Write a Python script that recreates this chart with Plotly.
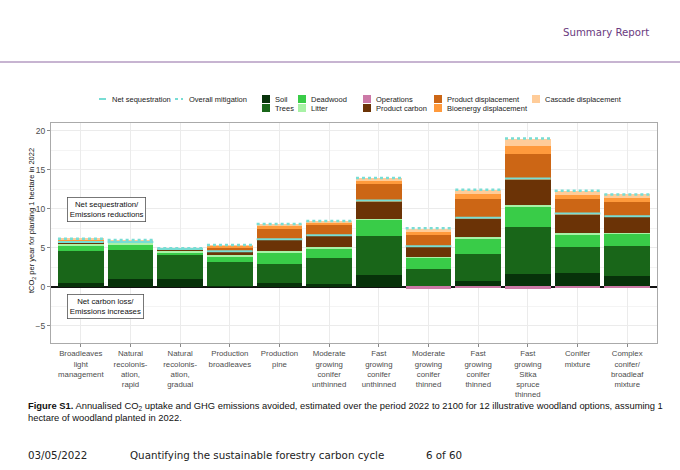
import plotly.graph_objects as go

# woodland options (x axis)
categories = ["Broadleaves<br>light<br>management", "Natural<br>recolonis-<br>ation,<br>rapid",
              "Natural<br>recolonis-<br>ation,<br>gradual", "Production<br>broadleaves",
              "Production<br>pine", "Moderate<br>growing<br>conifer<br>unthinned",
              "Fast<br>growing<br>conifer<br>unthinned", "Moderate<br>growing<br>conifer<br>thinned",
              "Fast<br>growing<br>conifer<br>thinned", "Fast<br>growing<br>Sitka<br>spruce<br>thinned",
              "Conifer<br>mixture", "Complex<br>conifer/<br>broadleaf<br>mixture"]

# tCO2 per year
soil = [0.5, 0.95, 0.95, 0.1, 0.5, 0.3, 1.5, 0.1, 0.75, 1.6, 1.8, 1.45]
trees = [4.1, 3.75, 3.1, 3.05, 2.45, 3.4, 5.05, 2.15, 3.5, 6.1, 3.25, 3.75]
deadwood = [0.75, 0.65, 0.35, 0.7, 1.45, 1.25, 2.05, 1.45, 1.95, 2.6, 1.65, 1.6]
litter = [0.2, 0.3, 0.3, 0.2, 0.15, 0.15, 0.15, 0.15, 0.15, 0.15, 0.15, 0.15]
operations = [0, 0, 0, 0, 0, 0, 0, -0.25, -0.15, -0.25, -0.05, -0.05]
product_carbon = [0.15, 0.05, 0.1, 0.4, 1.5, 1.45, 2.15, 1.25, 2.35, 3.3, 2.4, 2.0]
product_displacement = [0.15, 0.1, 0.05, 0.55, 1.35, 1.35, 2.3, 1.6, 2.5, 3.3, 2.05, 1.95]
bioenergy_displacement = [0.2, 0.1, 0.05, 0.25, 0.4, 0.3, 0.35, 0.35, 0.65, 1.0, 0.5, 0.5]
cascade_displacement = [0.1, 0.05, 0.05, 0.1, 0.2, 0.2, 0.4, 0.4, 0.6, 0.95, 0.5, 0.45]
net_sequestration = [5.75, 5.75, 4.85, 4.55, 6.1, 6.6, 11.05, 5.2, 8.85, 13.9, 9.4, 9.05]
overall_mitigation = [6.15, 6.0, 4.95, 5.35, 8.05, 8.45, 13.95, 7.5, 12.45, 19.0, 12.3, 11.85]

y_ticks = [-5, 0, 5, 10, 15, 20]

series = [
    ("Soil", soil, "#07320a"),
    ("Trees", trees, "#196619"),
    ("Deadwood", deadwood, "#39cc48"),
    ("Litter", litter, "#a8f2a6"),
    ("Operations", operations, "#cc79a7"),
    ("Product carbon", product_carbon, "#6b3306"),
    ("Product displacement", product_displacement, "#cc6615"),
    ("Bioenergy displacement", bioenergy_displacement, "#ff9a3c"),
    ("Cascade displacement", cascade_displacement, "#ffcc99"),
]
line_colour = "#78ddd4"
FONT = "Liberation Sans, Arial, sans-serif"
PAGE_FONT = "DejaVu Sans, Verdana, sans-serif"

# plot panel in pixels
L, R, T, B = 51, 657, 123, 343


def px(x):
    return (x - L) / (R - L)


def py(y):
    return (B - y) / (B - T)


xpos = list(range(len(categories)))
bar_w = 0.92

fig = go.Figure()
for name, vals, col in series:
    fig.add_trace(go.Bar(x=xpos, y=vals, name=name, marker_color=col,
                         marker_line_width=0, width=bar_w, showlegend=False))

# horizontal segments across each bar
for vals, dash, w in [(net_sequestration, "solid", 2), (overall_mitigation, "dot", 2.5)]:
    sx, sy = [], []
    for i, v in enumerate(vals):
        sx += [i - bar_w / 2, i + bar_w / 2, None]
        sy += [v, v, None]
    fig.add_trace(go.Scatter(x=sx, y=sy, mode="lines", showlegend=False,
                             line=dict(color=line_colour, width=w, dash=dash)))

shapes = []
annotations = []

# manual legend
shapes.append(dict(type="line", xref="paper", yref="paper", x0=px(99), x1=px(106),
                   y0=py(99), y1=py(99), line=dict(color=line_colour, width=2)))
annotations.append(dict(text="Net sequestration", x=px(110), y=py(99)))
shapes.append(dict(type="line", xref="paper", yref="paper", x0=px(175), x1=px(183),
                   y0=py(99), y1=py(99), line=dict(color=line_colour, width=2, dash="dot")))
annotations.append(dict(text="Overall mitigation", x=px(187), y=py(99)))

legend_order = ["Soil", "Trees", "Deadwood", "Litter", "Operations", "Product carbon",
                "Product displacement", "Bioenergy displacement", "Cascade displacement"]
col_x = [262, 298, 363, 434, 532]
row_y = [95, 104]
colours = {n: c for n, _, c in series}
for k, name in enumerate(legend_order):
    cx = col_x[k // 2]
    ry = row_y[k % 2]
    shapes.append(dict(type="rect", xref="paper", yref="paper", x0=px(cx), x1=px(cx + 8),
                       y0=py(ry), y1=py(ry + 8), fillcolor=colours[name], line_width=0))
    annotations.append(dict(text=name, x=px(cx + 11), y=py(ry + 4)))

for a in annotations:
    a.update(xref="paper", yref="paper", xanchor="left", yanchor="middle", showarrow=False,
             font=dict(family=FONT, size=7.5, color="#222222"))

# boxed labels
box = dict(xref="paper", yref="paper", xanchor="center", yanchor="middle", showarrow=False,
           bordercolor="#555555", borderwidth=0.8, borderpad=2, bgcolor="white",
           font=dict(family=FONT, size=7.8, color="#111111"))
annotations.append(dict(text="Net sequestration/<br>Emissions reductions", x=px(106), y=py(209.5), **box))
annotations.append(dict(text="Net carbon loss/<br>Emissions increases", x=px(105.5), y=py(306.5), **box))

# y axis title
annotations.append(dict(text="tCO<sub>2</sub> per year for planting 1 hectare in 2022", xref="paper",
                        yref="paper", x=px(32), y=py(221), xanchor="center", yanchor="middle",
                        textangle=-90, showarrow=False,
                        font=dict(family=FONT, size=7.5, color="#111111")))

# page furniture
shapes.append(dict(type="line", xref="paper", yref="paper", x0=px(0), x1=px(680), y0=py(62), y1=py(62),
                   line=dict(color="#b59bc2", width=1.5)))
annotations.append(dict(text="Summary Report", xref="paper", yref="paper", x=px(651), y=py(32),
                        xanchor="right", yanchor="middle", showarrow=False,
                        font=dict(family=PAGE_FONT, size=10.2, color="#6b3a80")))
annotations.append(dict(text="<b>Figure S1.</b> Annualised CO<sub>2</sub> uptake and GHG emissions avoided, "
                             "estimated over the period 2022 to 2100 for 12 illustrative woodland options, "
                             "assuming 1<br>hectare of woodland planted in 2022.",
                        xref="paper", yref="paper", x=px(26), y=py(398), xanchor="left", yanchor="top",
                        align="left", showarrow=False, font=dict(family=FONT, size=9.4, color="#111111")))
for text, x in [("03/05/2022", 26), ("Quantifying the sustainable forestry carbon cycle", 128), ("6 of 60", 424)]:
    annotations.append(dict(text=text, xref="paper", yref="paper", x=px(x), y=py(455), xanchor="left",
                            yanchor="middle", showarrow=False,
                            font=dict(family=PAGE_FONT, size=10.3, color="#222222")))

fig.update_layout(
    width=680, height=470,
    margin=dict(l=L, r=680 - R, t=T, b=470 - B),
    barmode="relative", bargap=0,
    paper_bgcolor="white", plot_bgcolor="white",
    font=dict(family=FONT, size=8, color="#4d4d4d"),
    shapes=shapes, annotations=annotations,
    xaxis=dict(tickvals=xpos, ticktext=categories, range=[-0.6, len(categories) - 0.4],
               showgrid=True, gridcolor="#ebebeb", gridwidth=0.8, zeroline=False,
               showline=True, mirror=True, linecolor="#aaaaaa", linewidth=1,
               ticks="outside", ticklen=3, tickcolor="#888888",
               tickfont=dict(family=FONT, size=7.8, color="#4d4d4d")),
    yaxis=dict(range=[-7.2, 21.0], tickvals=y_ticks, showgrid=True, gridcolor="#ebebeb", gridwidth=0.8,
               minor=dict(dtick=2.5, showgrid=True, gridcolor="#f4f4f4", gridwidth=0.5),
               zeroline=True, zerolinecolor="#111111", zerolinewidth=1.6,
               showline=True, mirror=True, linecolor="#aaaaaa", linewidth=1,
               ticks="outside", ticklen=3, tickcolor="#888888",
               tickfont=dict(family=FONT, size=8.5, color="#4d4d4d")),
)

# the page keeps the browser's default 8px body margin otherwise
fig.write_html("out.html", config={"displayModeBar": False},
               post_script="document.body.style.margin = '0';")
